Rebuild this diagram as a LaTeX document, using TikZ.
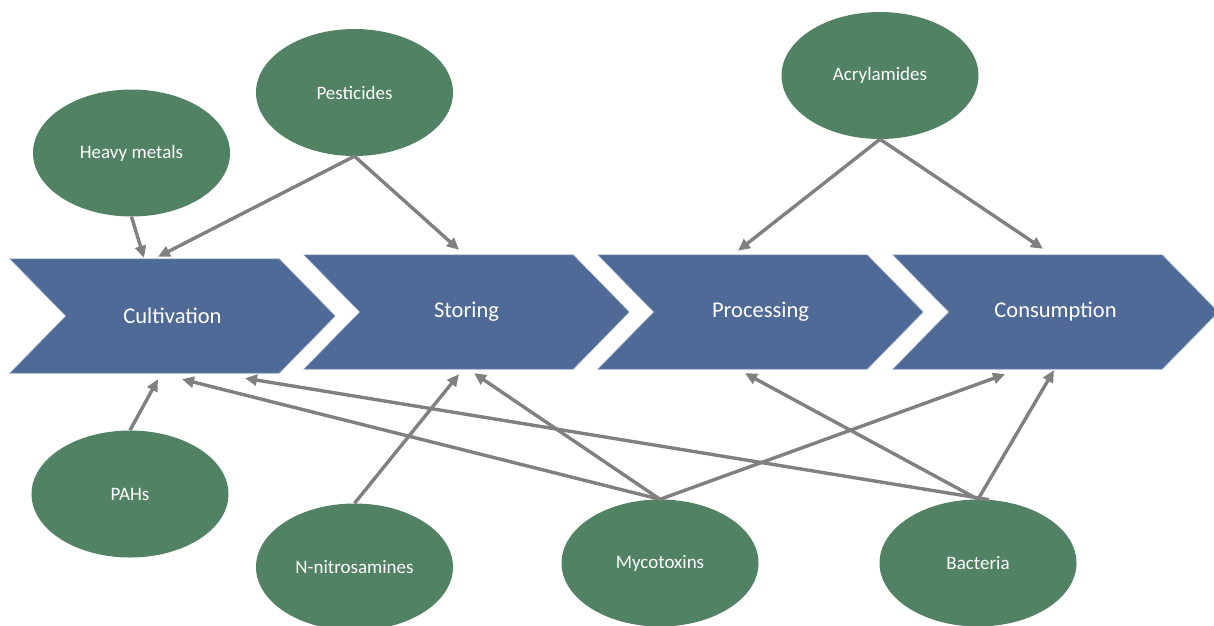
\documentclass[tikz,border=0pt]{standalone}
\usepackage{fontspec}
\setmainfont{Carlito}
\usetikzlibrary{shapes.geometric,arrows.meta,calc,backgrounds}
\definecolor{stageblue}{RGB}{79,106,151}
\definecolor{stageedge}{RGB}{150,168,198}
\definecolor{hazardgreen}{RGB}{82,130,100}
\definecolor{linkgray}{RGB}{128,128,128}
% chevron body drawn around a stage node (56pt point / notch depth)
\newcommand\stagechevron[1]{%
  \path[chevfill] (#1.north west) -- ([xshift=-56pt]#1.north east) -- (#1.east)
    -- ([xshift=-56pt]#1.south east) -- (#1.south west) -- ([xshift=56pt]#1.west) -- cycle;}
\begin{document}
\begin{tikzpicture}[x=1pt,y=-1pt,
  stage/.style={rectangle, minimum width=325pt, minimum height=114pt, inner sep=0pt,
    text=white, font=\fontsize{22.5}{27}\selectfont},
  hazard/.style={ellipse, fill=hazardgreen, minimum width=197pt, minimum height=127pt,
    inner sep=0pt, text=white, font=\fontsize{19}{23}\selectfont},
  link/.style={draw=linkgray, line width=3.4pt, -{Triangle[length=12pt,width=11pt]}},
  chevfill/.style={fill=stageblue, draw=stageedge, line width=0.6pt}
]
\useasboundingbox (0,0) rectangle (1214,625);
\clip (0,0) rectangle (1214,625);

% stages of the food chain
\node[stage] (cult) at (172.5,316) {Cultivation};
\node[stage] (stor) at (466.5,312) {Storing};
\node[stage] (proc) at (760.5,312) {Processing};
\node[stage] (cons) at (1055.5,312) {Consumption};
\begin{pgfonlayer}{background}
  \stagechevron{cult}
  \stagechevron{stor}
  \stagechevron{proc}
  \stagechevron{cons}
\end{pgfonlayer}

% contaminants
\node[hazard] (hm)   at (131.5,153)  {Heavy metals};
\node[hazard] (pest) at (354.5,92.5) {Pesticides};
\node[hazard] (acr)  at (880,75.5)   {Acrylamides};
\node[hazard] (pah)  at (130,494)    {PAHs};
\node[hazard] (nit)  at (354.5,567)  {N-nitrosamines};
\node[hazard] (myc)  at (660,563)    {Mycotoxins};
\node[hazard] (bac)  at (978,563)    {Bacteria};

% links from contaminants to stages
\draw[link] (hm.south)   -- ($(cult.north)+(-28.5,-1)$);
\draw[link] (pest.south) -- ($(cult.north)+(-14.5,-2)$);
\draw[link] (pest.south) -- ($(stor.north)+(-7.5,-5)$);
\draw[link] (acr.south)  -- ($(proc.north)+(-22.5,-4)$);
\draw[link] (acr.south)  -- ($(cons.north)+(-12.5,-6)$);

\draw[link] (pah.north) -- ($(cult.south)+(-14.5,6)$);
\draw[link] (nit.north) -- ($(stor.south)+(-7.5,5)$);
\draw[link] (myc.north) -- ($(cult.south)+(9.5,6)$);
\draw[link] (myc.north) -- ($(stor.south)+(7.5,4)$);
\draw[link] (myc.north) -- ($(cons.south)+(-50.5,5)$);
\draw[link] (bac.80)    -- ($(cult.south)+(72.5,5)$);
\draw[link] (bac.north) -- ($(proc.south)+(-15.5,4)$);
\draw[link] (bac.north) -- ($(cons.south)+(-1.5,1)$);
\end{tikzpicture}
\end{document}
